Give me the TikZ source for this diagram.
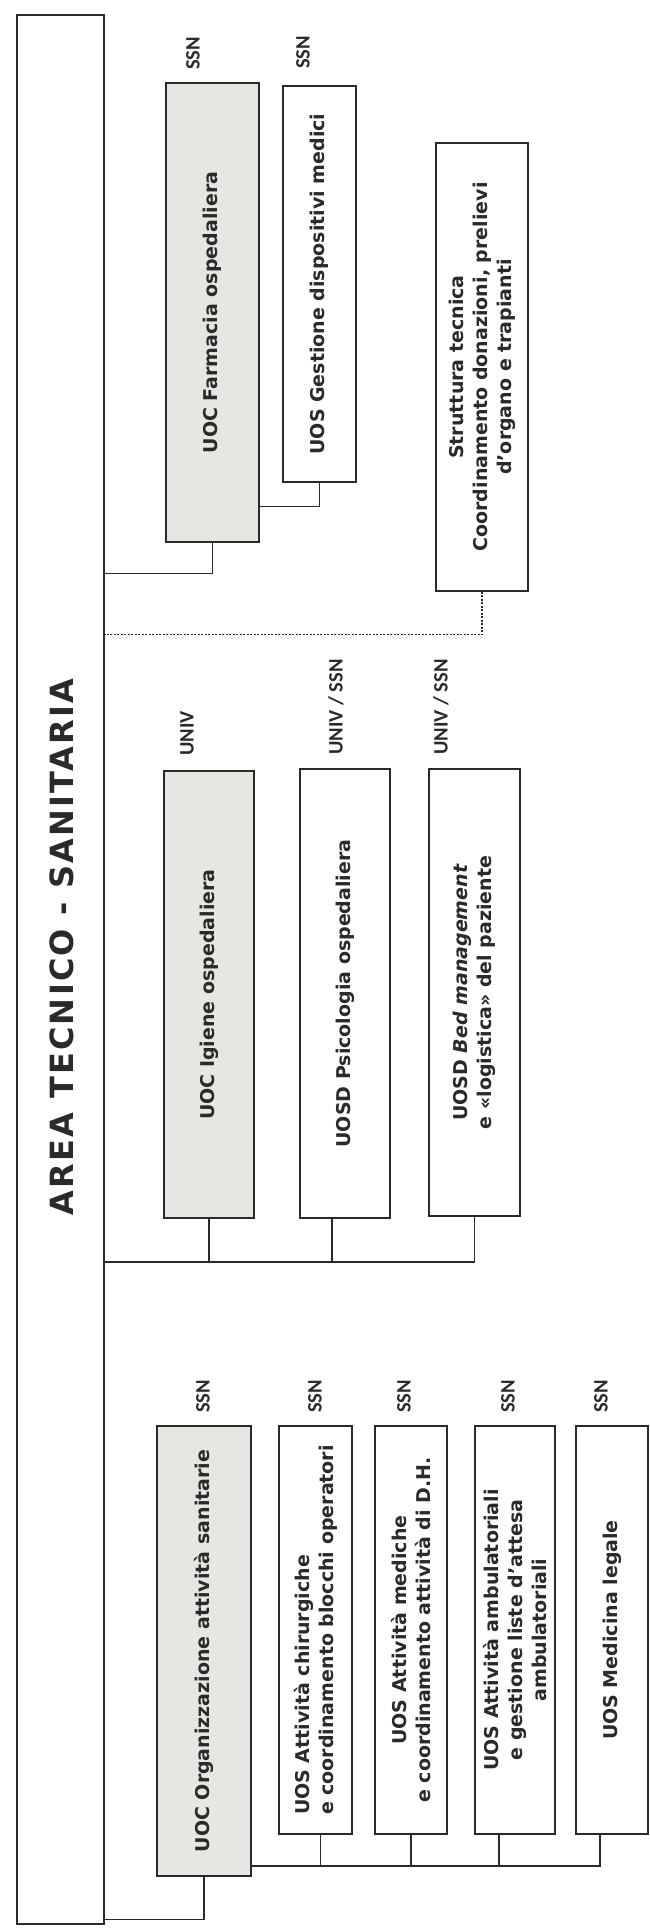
\documentclass[tikz,border=0pt]{standalone}
\usepackage{fontspec}
\setmainfont{DejaVu Sans}
\newfontfamily\labfont{Carlito}
\definecolor{boxgray}{HTML}{E6E6E3}
\definecolor{ink}{HTML}{2A2A2A}
\begin{document}
\begin{tikzpicture}[x=1pt,y=-1pt,
  box/.style={draw=ink, line width=1.6pt, fill=white, rotate=90, inner sep=0pt,
    font=\bfseries\fontsize{19}{24}\selectfont, align=center, text=ink},
  graybox/.style={box, fill=boxgray},
  lab/.style={rotate=90, anchor=west, inner sep=0pt, font=\labfont\bfseries\fontsize{20.5}{24}\selectfont, text=ink},
  conn/.style={draw=ink, line width=1.3pt},
  dconn/.style={conn, dash pattern=on 2pt off 1.5pt}
]
\useasboundingbox (0,0) rectangle (650,1928);
\fill[white] (0,0) rectangle (650,1928);

% title strip
\node[draw=ink, line width=1.6pt, rotate=90, minimum width=1909pt, minimum height=87pt,
  inner sep=0pt] (title) at (60.5,969.5) {};
\node[rotate=90, inner sep=0pt, text=ink,
  font=\bfseries\fontsize{32}{36}\selectfont\addfontfeature{LetterSpace=7}] (ttext) at (62,947)
  {AREA TECNICO - SANITARIA};

% ---- group A
\node[graybox, minimum width=459pt, minimum height=93pt] (farm) at (212.5,312.5) {UOC Farmacia ospedaliera};
\node[box, minimum width=396pt, minimum height=73pt] (gest) at (319.5,284) {UOS Gestione dispositivi medici};
\node[box, minimum width=448pt, minimum height=92pt] (strut) at (482,367)
  {Struttura tecnica\\Coordinamento donazioni, prelievi\\d'organo e trapianti};
\node[lab] (lfarm) at (193,70) {SSN};
\node[lab] (lgest) at (303,69) {SSN};

\draw[conn] (farm.west) -- ++(0,31) coordinate (ja) -- (ja -| title.south);
\draw[conn] (gest.west) -- ++(0,24) coordinate (jb) -- (jb -| farm.south);
\draw[dconn] (strut.west) -- ++(0,43) coordinate (jc) -- (jc -| title.south);

% ---- group B
\node[graybox, minimum width=447pt, minimum height=90pt] (igi) at (209,994.5) {UOC Igiene ospedaliera};
\node[box, minimum width=449pt, minimum height=90pt] (psi) at (345,993.5) {UOSD Psicologia ospedaliera};
\node[box, minimum width=447pt, minimum height=91pt] (bed) at (474.5,992.5)
  {UOSD \textit{Bed management}\\e «logistica» del paziente};
\node[lab] (ligi) at (187,756) {UNIV};
\node[lab] (lpsi) at (336,755) {UNIV / SSN};
\node[lab] (lbed) at (441,755) {UNIV / SSN};

\coordinate (busB) at (0,1262);
\coordinate (psiS) at ([xshift=-13pt]psi.west);
\draw[conn] (busB -| title.south) -- (busB -| bed.west) -- (bed.west);
\draw[conn] (igi.west) -- (igi.west |- busB);
\draw[conn] (psiS) -- (psiS |- busB);

% ---- group C
\node[graybox, minimum width=450pt, minimum height=94pt] (org) at (204,1651) {UOC Organizzazione attività sanitarie};
\node[box, minimum width=408pt, minimum height=73pt, align=left] (chi) at (315.5,1630)
  {UOS Attività chirurgiche\\e coordinamento blocchi operatori};
\node[box, minimum width=408pt, minimum height=72pt] (med) at (411,1630)
  {UOS Attività mediche\\e coordinamento attività di D.H.};
\node[box, minimum width=408pt, minimum height=80pt] (amb) at (515,1630)
  {UOS Attività ambulatoriali\\e gestione liste d'attesa\\ambulatoriali};
\node[box, minimum width=408pt, minimum height=72pt] (leg) at (612,1630) {UOS Medicina legale};
\node[lab] (lorg) at (203,1413) {SSN};
\node[lab] (lchi) at (315,1413) {SSN};
\node[lab] (lmed) at (404,1413) {SSN};
\node[lab] (lamb) at (508,1413) {SSN};
\node[lab] (lleg) at (601,1413) {SSN};

\coordinate (busC) at (0,1866);
\coordinate (chiS) at ([xshift=5pt]chi.west);
\coordinate (ambS) at ([xshift=-16pt]amb.west);
\coordinate (legS) at ([xshift=-12pt]leg.west);
\draw[conn] (busC -| org.south) -- (busC -| legS) -- (legS);
\draw[conn] (chiS) -- (chiS |- busC);
\draw[conn] (med.west) -- (med.west |- busC);
\draw[conn] (ambS) -- (ambS |- busC);
\draw[conn] (org.west) -- ++(0,43) coordinate (jd) -- (jd -| title.south);
\end{tikzpicture}
\end{document}
